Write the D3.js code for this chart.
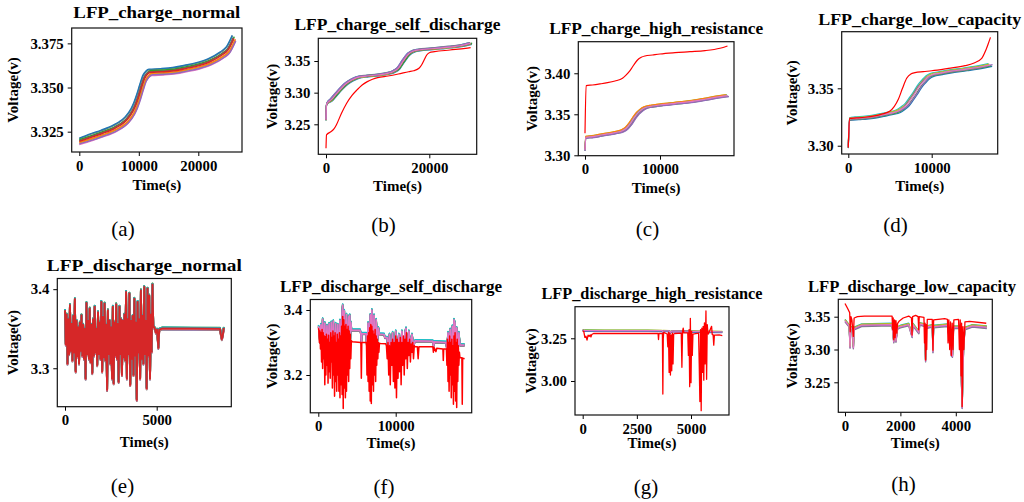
<!DOCTYPE html>
<html>
<head>
<meta charset="utf-8">
<script src="https://cdn.jsdelivr.net/npm/d3@7"></script>
<style>
  body { margin: 0; background: #fff; }
  svg { display: block; }
</style>
</head>
<body>
<div id="chart"></div>
<script>
const width = 1024, height = 502;
const serif = '"Liberation Serif", "Times New Roman", Times, "Nimbus Roman", "DejaVu Serif", serif';

const tab10 = ["#1f77b4", "#ff7f0e", "#2ca02c", "#d62728", "#9467bd",
               "#8c564b", "#e377c2", "#7f7f7f", "#bcbd22", "#17becf"];
const faultColor = "#ff0000";

// --------------------------------------
//  data : (a) charge normal
// --------------------------------------
const aTime = [0, 2000, 4000, 6000, 7000, 8000, 9000, 9500, 10000, 10500, 11000,
               11500, 12000, 14000, 16000, 18000, 20000, 22000, 24000, 25000, 26000];
const aVolt = [3.3195, 3.3218, 3.3241, 3.3269, 3.3288, 3.3316, 3.3363, 3.3400, 3.3448, 3.3504, 3.3552,
               3.3576, 3.3586, 3.3589, 3.3595, 3.3608, 3.3623, 3.3646, 3.3684, 3.3712, 3.3778];
const aCellOffsets = [-0.0018, 0.0015, -0.0010, 0.0006, 0.0018, -0.0005, 0.0010, -0.0014, 0.0003, 0.0];
const aCellShifts = [200, -250, 150, -100, -300, 250, 50, 300, -150, 0];

// --------------------------------------
//  data : (b) charge self discharge
// --------------------------------------
const bTime = [0, 60, 200, 1000, 2000, 3000, 4000, 5000, 6000, 8000, 10000, 12000,
               13000, 14000, 15000, 16000, 17000, 18000, 20000, 22000, 24000, 26000, 28000];
const bVolt = [3.257, 3.278, 3.283, 3.2885, 3.298, 3.307, 3.3148, 3.320, 3.3237, 3.3263, 3.3279, 3.3306,
               3.3331, 3.3385, 3.3505, 3.361, 3.3658, 3.3674, 3.369, 3.3705, 3.3721, 3.3741, 3.3778];
const bFaultTime = [0, 100, 1000, 1500, 2000, 3000, 4000, 5000, 6000, 7000, 8000, 9000, 10000,
                    12000, 14000, 16000, 17000, 18000, 18500, 19000, 19500, 20000, 21000, 24000, 27000, 28000];
const bFaultVolt = [3.212, 3.2333, 3.2385, 3.2422, 3.249, 3.2675, 3.2833, 3.2953, 3.3043, 3.3121, 3.3174, 3.3211, 3.3237,
                    3.3263, 3.3295, 3.3331, 3.3347, 3.3385, 3.3437, 3.3516, 3.3595, 3.3631, 3.3647, 3.3674, 3.370, 3.3712];
const bCellOffsets = [-0.0015, 0.0012, -0.0008, 0.0015, 0.0005, -0.0003, 0.0008, 0.0];
const bCellShifts = [250, -200, 150, -100, 300, 0, -250, 0];

// --------------------------------------
//  data : (c) charge high resistance
// --------------------------------------
const cTime = [0, 100, 1000, 2000, 3000, 4000, 5000, 5500, 6000, 6500, 7000, 7500,
               8000, 9000, 10000, 12000, 14000, 16000, 18000, 19000];
const cVolt = [3.3065, 3.322, 3.3227, 3.3244, 3.326, 3.3276, 3.330, 3.3329, 3.3382, 3.3451, 3.3512, 3.3553,
               3.358, 3.3601, 3.3613, 3.3634, 3.3654, 3.3683, 3.3715, 3.3727];
const cFaultTime = [0, 150, 1000, 2000, 3000, 4000, 5000, 5500, 6000, 6500, 7000, 7500,
                    8000, 9000, 10000, 12000, 14000, 16000, 18000, 19000];
const cFaultVolt = [3.3268, 3.3849, 3.3857, 3.387, 3.3885, 3.3906, 3.3939, 3.398, 3.4032, 3.4101, 3.4162, 3.4195,
                    3.4211, 3.4223, 3.4235, 3.4251, 3.4263, 3.4276, 3.4305, 3.4333];
const cCellOffsets = [0.0012, -0.0010, 0.0006, -0.0005, 0.0010, -0.0012, 0.0];
const cCellShifts = [-100, 150, -50, 100, -150, 200, 0];

// --------------------------------------
//  data : (d) charge low capacity
// --------------------------------------
const dTime = [0, 150, 1000, 2000, 3000, 4000, 5000, 6000, 6500, 7000, 7500, 8000, 8500,
               9000, 9500, 10000, 11000, 12000, 14000, 16000, 17000];
const dVolt = [3.2991, 3.3232, 3.3239, 3.3244, 3.3253, 3.3267, 3.3282, 3.3302, 3.3326, 3.3355, 3.3404, 3.3456, 3.3514,
               3.3558, 3.3596, 3.3616, 3.3631, 3.3645, 3.3665, 3.3688, 3.3703];
const dFaultTime = [0, 150, 1000, 2000, 4000, 5000, 5500, 6000, 6500, 7000, 7500, 8000, 9000,
                    10000, 12000, 14000, 15000, 16000, 16500, 16800, 17050];
const dFaultVolt = [3.2985, 3.3238, 3.3242, 3.3248, 3.3275, 3.3302, 3.334, 3.3404, 3.350, 3.3587, 3.3625, 3.3636, 3.3645,
                    3.3653, 3.3674, 3.3697, 3.3718, 3.3761, 3.3834, 3.3892, 3.3944];
const dCellOffsets = [0.0012, -0.0012, 0.0008, -0.0006, 0.0004, -0.0010, 0.0];
const dCellShifts = [-200, 250, -100, 150, 300, -250, 0];

// --------------------------------------
//  data : (e) discharge normal  (noisy part sampled every 45 s)
// --------------------------------------
const eNoiseStep = 45;
const eNoiseVolt = [
  3.3735, 3.330, 3.368, 3.306, 3.362, 3.318, 3.380, 3.322, 3.356, 3.310,
  3.366, 3.320, 3.3875, 3.296, 3.360, 3.315, 3.352, 3.306, 3.358, 3.322,
  3.367, 3.316, 3.355, 3.312, 3.350, 3.287, 3.3825, 3.318, 3.360, 3.312,
  3.3756, 3.308, 3.355, 3.294, 3.362, 3.316, 3.378, 3.320, 3.350, 3.304,
  3.371, 3.318, 3.358, 3.312, 3.384, 3.296, 3.365, 3.314, 3.382, 3.310,
  3.355, 3.2727, 3.3735, 3.318, 3.360, 3.306, 3.352, 3.287, 3.378, 3.281,
  3.358, 3.316, 3.381, 3.312, 3.356, 3.283, 3.378, 3.318, 3.362, 3.2916,
  3.360, 3.314, 3.368, 3.310, 3.3966, 3.287, 3.362, 3.318, 3.3945, 3.279,
  3.360, 3.312, 3.366, 3.2916, 3.388, 3.316, 3.358, 3.2601, 3.384, 3.320,
  3.362, 3.287, 3.3987, 3.312, 3.366, 3.306, 3.4029, 3.318, 3.360, 3.2748,
  3.4008, 3.316, 3.392, 3.287, 3.368, 3.321, 3.4059, 3.352
];
const eTail = [[4850, 3.3525], [4900, 3.350], [4960, 3.345], [5020, 3.349], [5090, 3.326], [5140, 3.349],
               [5300, 3.3505], [7000, 3.3502], [8450, 3.3500], [8500, 3.343], [8550, 3.337], [8600, 3.341],
               [8650, 3.350], [8700, 3.3498]];
const eCellOffsets = [-0.0016, 0.0012, -0.0011, 0.0009, -0.0007, 0.0007, -0.0004, 0.0004, 0.0010, 0.0];

// --------------------------------------
//  data : (f) discharge self discharge
// --------------------------------------
const fNormal = [
  [0, 3.350], [100, 3.345], [200, 3.300], [340, 3.355], [480, 3.260], [560, 3.372], [700, 3.280], [840, 3.360],
  [980, 3.250], [1120, 3.352], [1260, 3.270], [1400, 3.358], [1540, 3.260], [1680, 3.362], [1820, 3.250],
  [1940, 3.366], [2100, 3.240], [2240, 3.358], [2380, 3.250], [2520, 3.355], [2660, 3.240], [2800, 3.368],
  [2940, 3.260], [3080, 3.392], [3150, 3.415], [3220, 3.250], [3360, 3.398], [3500, 3.240], [3640, 3.386],
  [3780, 3.270], [3920, 3.378], [4060, 3.384], [4130, 3.300], [4200, 3.362], [4300, 3.338],
  [5400, 3.338], [5500, 3.327], [5560, 3.300], [5620, 3.327], [6200, 3.327],
  [6290, 3.270], [6430, 3.360], [6570, 3.250], [6710, 3.385], [6850, 3.240], [6920, 3.400], [7060, 3.260],
  [7200, 3.384], [7340, 3.280], [7480, 3.370], [7620, 3.300], [7760, 3.345], [7900, 3.326],
  [8500, 3.325], [8600, 3.315], [8900, 3.315],
  [9000, 3.270], [9200, 3.325], [9400, 3.260], [9600, 3.330], [9800, 3.250], [10000, 3.335], [10200, 3.270],
  [10400, 3.325], [10600, 3.260], [10800, 3.335], [11000, 3.270], [11200, 3.330], [11330, 3.344], [11500, 3.280],
  [11700, 3.335], [11900, 3.290], [12100, 3.325], [12300, 3.290], [12500, 3.305],
  [14800, 3.304], [14900, 3.290], [15000, 3.302], [16500, 3.300],
  [16620, 3.280], [16760, 3.330], [16900, 3.260], [17040, 3.340], [17180, 3.250], [17320, 3.350], [17460, 3.250],
  [17530, 3.370], [17650, 3.360], [17740, 3.260], [17880, 3.345], [18020, 3.280], [18160, 3.330], [18300, 3.292],
  [18900, 3.292]
];
const fFault = [
  [0, 3.344], [70, 3.338], [140, 3.300], [210, 3.335], [280, 3.280], [350, 3.330], [420, 3.240], [490, 3.340],
  [560, 3.220], [630, 3.330], [700, 3.250], [770, 3.320], [840, 3.170], [910, 3.318], [980, 3.200], [1050, 3.325],
  [1120, 3.230], [1190, 3.310], [1260, 3.175], [1330, 3.322], [1400, 3.210], [1470, 3.300], [1540, 3.190],
  [1610, 3.330], [1680, 3.240], [1750, 3.315], [1820, 3.160], [1890, 3.335], [1960, 3.200], [2030, 3.320],
  [2100, 3.135], [2170, 3.330], [2240, 3.180], [2310, 3.300], [2380, 3.150], [2450, 3.325], [2520, 3.200],
  [2590, 3.310], [2660, 3.150], [2730, 3.330], [2800, 3.130], [2870, 3.320], [2940, 3.170], [3010, 3.350],
  [3080, 3.140], [3150, 3.380], [3220, 3.097], [3290, 3.370], [3360, 3.160], [3430, 3.350], [3500, 3.130],
  [3570, 3.355], [3640, 3.150], [3710, 3.340], [3780, 3.200], [3850, 3.350], [3920, 3.180], [3990, 3.335],
  [4060, 3.220], [4130, 3.325], [4200, 3.250], [4270, 3.305],
  [4400, 3.302], [5500, 3.300], [5560, 3.190], [5620, 3.300], [6150, 3.300],
  [6220, 3.300], [6290, 3.200], [6360, 3.320], [6430, 3.180], [6500, 3.330], [6570, 3.150], [6640, 3.345],
  [6710, 3.120], [6780, 3.355], [6850, 3.112], [6920, 3.350], [6990, 3.170], [7060, 3.335], [7130, 3.150],
  [7200, 3.325], [7270, 3.200], [7340, 3.340], [7410, 3.180], [7480, 3.320], [7550, 3.230], [7620, 3.310],
  [7690, 3.250], [7760, 3.300], [7830, 3.270], [7900, 3.298],
  [8000, 3.297], [8700, 3.296],
  [8800, 3.290], [8900, 3.250], [9000, 3.300], [9100, 3.200], [9200, 3.290], [9300, 3.170], [9400, 3.300],
  [9500, 3.230], [9600, 3.310], [9700, 3.180], [9800, 3.300], [9900, 3.160], [10000, 3.320], [10100, 3.130],
  [10200, 3.310], [10300, 3.190], [10400, 3.300], [10500, 3.210], [10600, 3.315], [10700, 3.170], [10800, 3.300],
  [10900, 3.230], [11000, 3.320], [11100, 3.200], [11200, 3.310], [11300, 3.250], [11400, 3.330], [11500, 3.220],
  [11600, 3.300], [11700, 3.260], [11800, 3.310], [11900, 3.240], [12000, 3.295], [12100, 3.270], [12200, 3.300],
  [12300, 3.250], [12400, 3.290], [12500, 3.287],
  [12800, 3.287], [12900, 3.250], [13000, 3.287], [14800, 3.287], [14870, 3.270], [14950, 3.285], [15200, 3.272],
  [15300, 3.282], [16100, 3.280], [16150, 3.245], [16200, 3.280], [16550, 3.280],
  [16620, 3.230], [16690, 3.310], [16760, 3.180], [16830, 3.300], [16900, 3.150], [16970, 3.320], [17040, 3.200],
  [17110, 3.300], [17180, 3.130], [17250, 3.310], [17320, 3.170], [17390, 3.290], [17460, 3.110], [17530, 3.320],
  [17600, 3.150], [17670, 3.330], [17740, 3.120], [17810, 3.300], [17880, 3.100], [17950, 3.310], [18020, 3.180],
  [18090, 3.290], [18160, 3.230], [18230, 3.270],
  [18300, 3.253], [18550, 3.253], [18600, 3.110], [18650, 3.252], [18900, 3.250]
];
const fCellOffsets = [0.003, -0.002, 0.002, -0.001, -0.0025, 0.0015, 0.0035, -0.001, 0.0];

// --------------------------------------
//  data : (g) discharge high resistance
// --------------------------------------
const gNormal = [
  [0, 3.298], [100, 3.296], [1000, 3.2955], [3000, 3.295], [3680, 3.2945], [3700, 3.286], [3720, 3.294],
  [4000, 3.2935], [4050, 3.283], [4100, 3.293], [4900, 3.292], [4940, 3.284], [4980, 3.291], [5450, 3.290],
  [5470, 3.280], [5500, 3.290], [6445, 3.288]
];
const gFault = [
  [0, 3.292], [50, 3.290], [100, 3.255], [150, 3.262], [200, 3.240], [250, 3.268], [300, 3.262], [350, 3.270],
  [380, 3.258], [420, 3.272], [500, 3.278], [3480, 3.278], [3500, 3.243], [3520, 3.278], [3680, 3.279],
  [3700, 2.924], [3720, 3.250], [3740, 3.285], [3900, 3.275], [3930, 3.200], [3960, 3.285], [3990, 3.050],
  [4020, 3.280], [4050, 3.035], [4080, 3.270], [4110, 3.060], [4140, 3.280], [4170, 3.100], [4200, 3.275],
  [4250, 3.278], [4550, 3.280], [4580, 3.080], [4610, 3.290], [4640, 3.310], [4670, 3.282], [4850, 3.282],
  [4880, 3.150], [4910, 3.300], [4940, 2.967], [4970, 3.367], [5000, 2.990], [5030, 3.290], [5060, 3.150],
  [5090, 3.275], [5350, 3.280], [5380, 3.100], [5410, 2.880], [5440, 3.300], [5470, 2.826], [5500, 3.310],
  [5530, 3.050], [5560, 3.320], [5590, 3.005], [5620, 3.340], [5650, 3.100], [5690, 3.410], [5720, 3.010],
  [5750, 3.330], [5780, 3.280], [5800, 3.275], [5950, 3.320], [5980, 3.272], [6020, 3.272], [6050, 3.210],
  [6080, 3.268], [6300, 3.270], [6445, 3.265]
];
const gCellOffsets = [-0.003, 0.002, -0.005, 0.001, -0.002, 0.0];

// --------------------------------------
//  data : (h) discharge low capacity
// --------------------------------------
const hNormal = [
  [0, 3.344], [150, 3.336], [182, 3.304], [210, 3.333], [270, 3.332], [303, 3.303], [330, 3.332], [600, 3.337],
  [1700, 3.338], [1760, 3.312], [1800, 3.330], [1840, 3.313], [1900, 3.333], [2000, 3.335], [2300, 3.338],
  [2424, 3.320], [2450, 3.338], [2667, 3.326], [2700, 3.339], [2880, 3.337], [2909, 3.283], [2940, 3.334],
  [3150, 3.336], [3176, 3.297], [3200, 3.335], [3700, 3.337], [3840, 3.292], [3880, 3.290], [3920, 3.334],
  [4150, 3.334], [4230, 3.212], [4280, 3.300], [4330, 3.332], [4600, 3.336], [5120, 3.334]
];
const hFault = [
  [0, 3.370], [100, 3.362], [170, 3.356], [190, 3.327], [215, 3.350], [250, 3.345], [300, 3.320], [330, 3.348],
  [450, 3.350], [700, 3.351], [1700, 3.351], [1720, 3.330], [1740, 3.348], [1760, 3.315], [1790, 3.345],
  [1810, 3.318], [1840, 3.344], [1870, 3.325], [1900, 3.340], [1950, 3.343], [2100, 3.348], [2300, 3.351],
  [2400, 3.348], [2420, 3.322], [2440, 3.350], [2550, 3.352], [2640, 3.350], [2660, 3.330], [2680, 3.350],
  [2850, 3.349], [2870, 3.310], [2890, 3.340], [2910, 3.284], [2930, 3.338], [2950, 3.300], [2970, 3.346],
  [3150, 3.346], [3175, 3.299], [3200, 3.345], [3600, 3.347], [3700, 3.346], [3720, 3.310], [3750, 3.345],
  [3780, 3.300], [3810, 3.342], [3840, 3.291], [3870, 3.340], [3900, 3.300], [3930, 3.345], [4100, 3.346],
  [4130, 3.300], [4160, 3.345], [4190, 3.260], [4210, 3.340], [4230, 3.213], [4260, 3.335], [4290, 3.300],
  [4330, 3.342], [4500, 3.343], [5100, 3.340]
];
const hCellOffsets = [0.002, -0.002, 0.001, -0.001, 0.0015, 0.0];

// --------------------------------------
//  panels
// --------------------------------------
const eNoise = eNoiseVolt.map((v, i) => [i * eNoiseStep, v]);

const panels = [
  { id: "a", title: "LFP_charge_normal", titleW: 167, normal: d3.zip(aTime, aVolt), offsets: aCellOffsets, shifts: aCellShifts,
    colors: [6, 7, 8, 9, 0, 1, 2, 4, 5, 3], smooth: true, lw: 1.4,
    box: [71.7, 242, 28, 152], xDomain: [-1277, 27345], yDomain: [3.3135, 3.3837],
    xTicks: [0, 10000, 20000], yTicks: [3.325, 3.350, 3.375], yFmt: ".3f",
    titleY: 17.5, xLabelY: 189.5, yLabelX: 17.5, capX: 123, capY: 236, cap: "(a)" },
  { id: "b", title: "LFP_charge_self_discharge", titleW: 206, normal: d3.zip(bTime, bVolt), fault: d3.zip(bFaultTime, bFaultVolt),
    offsets: bCellOffsets, shifts: bCellShifts, colors: [0, 9, 8, 7, 2, 5, 4, 6], smooth: true, lw: 1.2,
    box: [318.3, 476.7, 38.3, 154.3], xDomain: [-1491, 29177], yDomain: [3.2026, 3.3859],
    xTicks: [0, 20000], yTicks: [3.25, 3.30, 3.35], yFmt: ".2f",
    titleY: 29.5, xLabelY: 190.5, yLabelX: 277, capX: 383.5, capY: 232, cap: "(b)" },
  { id: "c", title: "LFP_charge_high_resistance", titleW: 214, normal: d3.zip(cTime, cVolt), fault: d3.zip(cFaultTime, cFaultVolt),
    offsets: cCellOffsets, shifts: cCellShifts, colors: [8, 2, 9, 7, 1, 4, 6], smooth: true, lw: 1.2,
    box: [578.3, 734, 41.7, 155.7], xDomain: [-893, 19867], yDomain: [3.2995, 3.4385],
    xTicks: [0, 10000], yTicks: [3.30, 3.35, 3.40], yFmt: ".2f",
    titleY: 33.5, xLabelY: 192.5, yLabelX: 537, capX: 647.5, capY: 236, cap: "(c)" },
  { id: "d", title: "LFP_charge_low_capacity", titleW: 203, normal: d3.zip(dTime, dVolt), fault: d3.zip(dFaultTime, dFaultVolt),
    offsets: dCellOffsets, shifts: dCellShifts, colors: [9, 0, 8, 2, 4, 7, 6], smooth: true, lw: 1.2,
    box: [841.7, 997.7, 31.7, 154], xDomain: [-791, 17914], yDomain: [3.2928, 3.3993],
    xTicks: [0, 10000], yTicks: [3.30, 3.35], yFmt: ".2f",
    titleY: 24.5, xLabelY: 191, yLabelX: 796.5, capX: 895.5, capY: 232, cap: "(d)" },
  { id: "e", title: "LFP_discharge_normal", titleW: 195, normal: eNoise.concat(eTail), offsets: eCellOffsets,
    colors: [7, 2, 4, 8, 1, 0, 6, 5, 9, 3], smooth: false, lw: 1.9,
    box: [57.3, 231.3, 278.5, 406.7], xDomain: [-420, 9068], yDomain: [3.2514, 3.4135],
    xTicks: [0, 5000], yTicks: [3.3, 3.4], yFmt: ".1f",
    titleY: 270.5, xLabelY: 446.5, yLabelX: 18, capX: 122.5, capY: 493, cap: "(e)" },
  { id: "f", title: "LFP_discharge_self_discharge", titleW: 222, normal: fNormal, fault: fFault, offsets: fCellOffsets,
    colors: [9, 1, 8, 0, 7, 2, 9, 4, 6], smooth: false, lw: 1.5,
    box: [310.3, 471.7, 299.5, 412.8], xDomain: [-1034, 19819], yDomain: [3.0837, 3.4323],
    xTicks: [0, 10000], yTicks: [3.2, 3.4], yFmt: ".1f",
    titleY: 291.7, xLabelY: 447.5, yLabelX: 277, capX: 384, capY: 494, cap: "(f)" },
  { id: "g", title: "LFP_discharge_high_resistance", titleW: 221, normal: gNormal, fault: gFault, offsets: gCellOffsets,
    colors: [7, 8, 4, 2, 0, 6], smooth: false, lw: 1.3,
    box: [575, 729, 306.7, 415], xDomain: [-355, 6754], yDomain: [2.8009, 3.435],
    xTicks: [0, 2500, 5000], yTicks: [3.00, 3.25], yFmt: ".2f",
    titleY: 299, xLabelY: 447.5, yLabelX: 536, capX: 646, capY: 494, cap: "(g)" },
  { id: "h", title: "LFP_discharge_low_capacity", titleW: 208, titleSize: 16.5, titleX: 912,
    normal: hNormal, fault: hFault, offsets: hCellOffsets,
    colors: [9, 7, 2, 4, 8, 6], smooth: false, lw: 1.3,
    box: [838.3, 992.3, 299.3, 412.3], xDomain: [-242, 5318], yDomain: [3.2043, 3.3765],
    xTicks: [0, 2000, 4000], yTicks: [3.25, 3.30, 3.35], yFmt: ".2f",
    titleY: 291.5, xLabelY: 447.5, yLabelX: 796.5, capX: 903.5, capY: 491, cap: "(h)" }
];

// --------------------------------------
//  canvas
// --------------------------------------
const svg = d3.select("#chart")
  .append("svg")
    .attr("width", width)
    .attr("height", height)
    .attr("font-family", serif);

svg.append("rect").attr("width", width).attr("height", height).attr("fill", "#fff");

panels.forEach(drawPanel);

function drawPanel(p) {
  const [l, r, t, b] = p.box;
  const x = d3.scaleLinear().domain(p.xDomain).range([l, r]);
  const y = d3.scaleLinear().domain(p.yDomain).range([b, t]);
  const g = svg.append("g").attr("class", "panel-" + p.id);

  g.append("clipPath")
    .attr("id", "clip-" + p.id)
    .append("rect")
      .attr("x", l).attr("y", t).attr("width", r - l).attr("height", b - t);

  const plot = g.append("g").attr("clip-path", `url(#clip-${p.id})`);

  const line = d3.line()
    .x(d => x(d[0]))
    .y(d => y(d[1]))
    .curve(p.smooth ? d3.curveMonotoneX : d3.curveLinear);

  // healthy cells
  p.offsets.forEach((off, i) => {
    const sh = p.shifts ? p.shifts[i] : 0;
    const pts = p.normal.map(d => [Math.max(0, d[0] + (d[0] > 300 ? sh : 0)), d[1] + off]);
    plot.append("path")
      .datum(pts)
      .attr("fill", "none")
      .attr("stroke", tab10[p.colors[i]])
      .attr("stroke-width", p.lw)
      .attr("stroke-linejoin", "round")
      .attr("d", line);
  });

  // faulty cell
  if (p.fault) {
    plot.append("path")
      .datum(p.fault)
      .attr("fill", "none")
      .attr("stroke", faultColor)
      .attr("stroke-width", p.lw)
      .attr("stroke-linejoin", "round")
      .attr("d", line);
  }

  // axes
  const xAxis = g.append("g")
    .attr("transform", `translate(0, ${b})`)
    .call(d3.axisBottom(x).tickValues(p.xTicks).tickFormat(d3.format("d")).tickSize(4).tickPadding(4).tickSizeOuter(0));
  const yAxis = g.append("g")
    .attr("transform", `translate(${l}, 0)`)
    .call(d3.axisLeft(y).tickValues(p.yTicks).tickFormat(d3.format(p.yFmt)).tickSize(4).tickPadding(4).tickSizeOuter(0));

  [xAxis, yAxis].forEach(ax => {
    ax.attr("font-family", serif).attr("font-size", 14.8).attr("font-weight", "bold");
    ax.select(".domain").remove();
    ax.selectAll(".tick line").attr("stroke", "#000").attr("stroke-width", 1);
    ax.selectAll(".tick text").attr("fill", "#000");
  });

  g.append("rect")
    .attr("x", l).attr("y", t).attr("width", r - l).attr("height", b - t)
    .attr("fill", "none").attr("stroke", "#111").attr("stroke-width", 1.2);

  // texts
  g.append("text")
    .attr("x", p.titleX || (l + r) / 2).attr("y", p.titleY)
    .attr("text-anchor", "middle")
    .attr("font-family", serif).attr("font-weight", "bold").attr("font-size", p.titleSize || 17.5)
    .attr("textLength", p.titleW).attr("lengthAdjust", "spacingAndGlyphs")
    .text(p.title);

  g.append("text")
    .attr("x", (l + r) / 2).attr("y", p.xLabelY)
    .attr("text-anchor", "middle")
    .attr("font-family", serif).attr("font-weight", "bold").attr("font-size", 15)
    .text("Time(s)");

  g.append("text")
    .attr("transform", `translate(${p.yLabelX}, ${(t + b) / 2}) rotate(-90)`)
    .attr("text-anchor", "middle")
    .attr("font-family", serif).attr("font-weight", "bold").attr("font-size", 15)
    .text("Voltage(v)");

  g.append("text")
    .attr("x", p.capX).attr("y", p.capY)
    .attr("text-anchor", "middle")
    .attr("font-family", serif).attr("font-size", 21)
    .text(p.cap);
}
</script>
</body>
</html>
